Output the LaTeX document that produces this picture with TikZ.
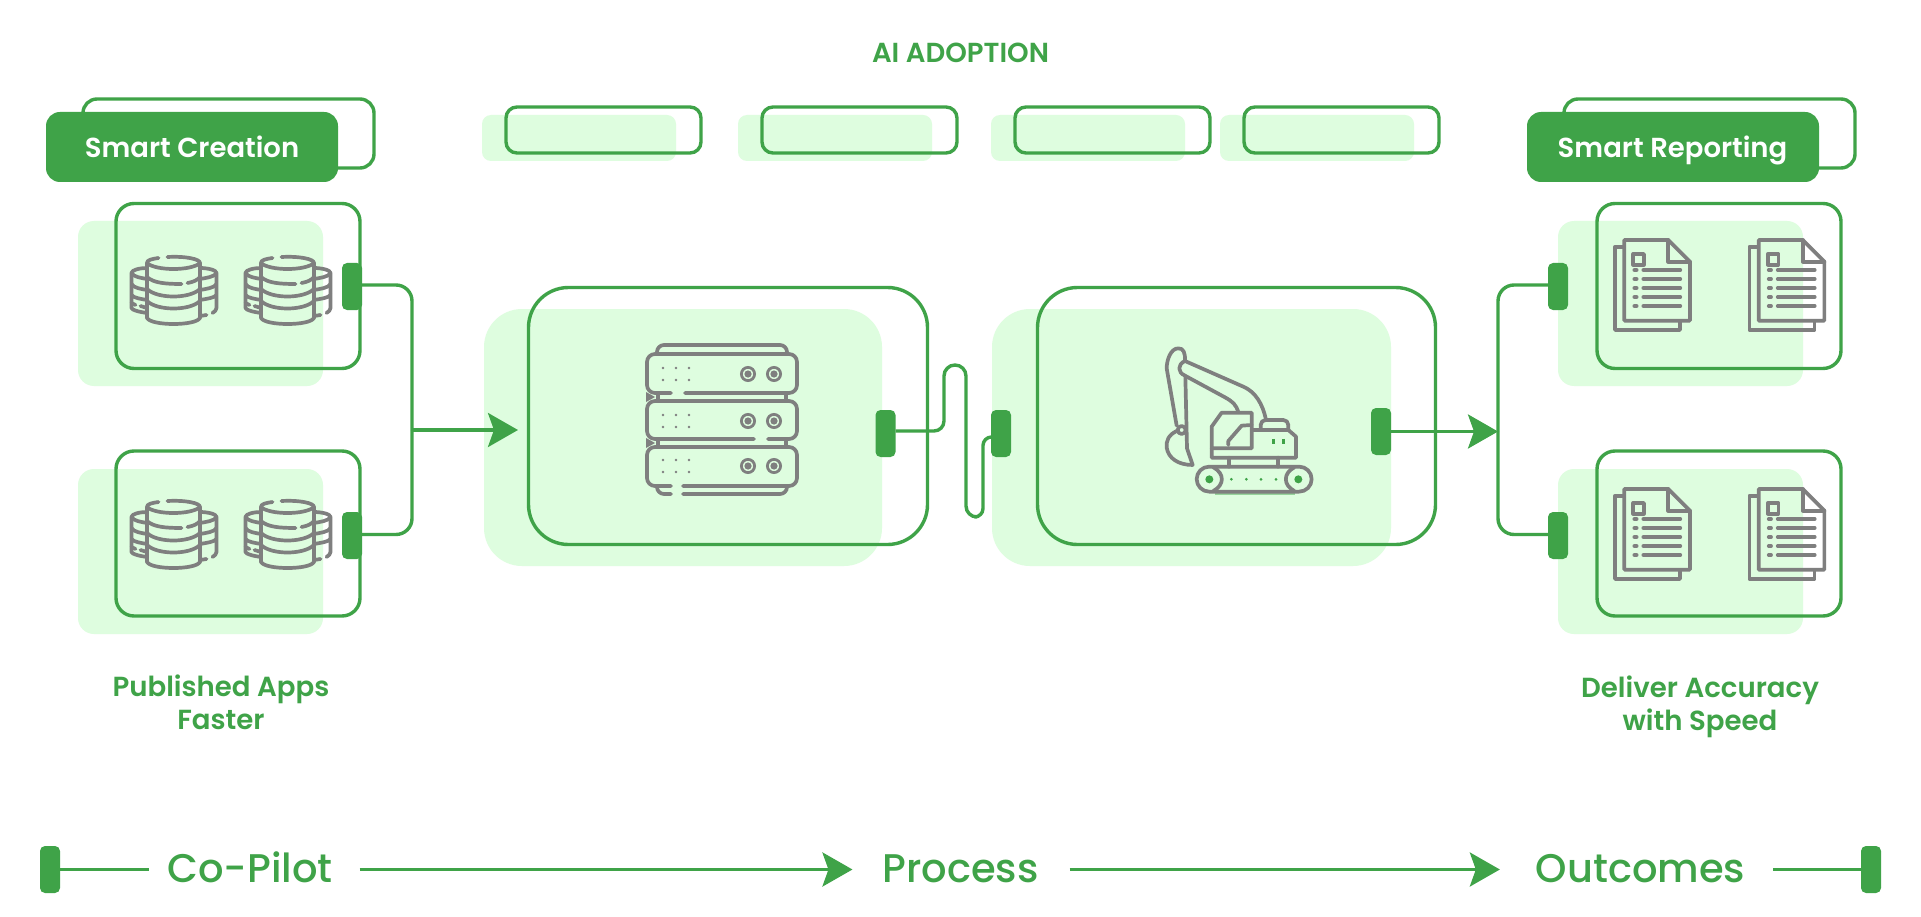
\documentclass[tikz,border=0pt]{standalone}
\usepackage{fontspec}
\setmainfont{Poppins}
\newfontfamily\popm{Poppins Medium}
\newfontfamily\pops{Poppins SemiBold}
\usetikzlibrary{arrows.meta,calc}
\definecolor{gr}{HTML}{3FA348}
\definecolor{lt}{HTML}{DEFDDF}
\definecolor{gy}{HTML}{7F7F7F}
\tikzset{
  fillbox/.style={fill=lt,draw=none,rounded corners=#1,inner sep=0pt,outer sep=0pt},
  linebox/.style={draw=gr,line width=3.4pt,fill=none,rounded corners=#1,inner sep=0pt,outer sep=0pt},
  solidbox/.style={fill=gr,draw=none,rounded corners=#1,inner sep=0pt,outer sep=0pt},
  handle/.style={fill=gr,draw=none,rounded corners=5pt,minimum width=20pt,minimum height=47pt,inner sep=0pt,outer sep=0pt},
  wire/.style={draw=gr,line width=3.4pt},
  arrowline/.style={draw=gr,line width=3.4pt,-{Stealth[length=30pt,width=34pt,inset=6pt]}},
  icon/.style={draw=gy,line width=3.7pt,line cap=round,line join=round},
  label/.style={text=gr,inner sep=0pt,outer sep=0pt,align=center},
  tlabel/.style={text=gr,inner sep=0pt,outer sep=0pt,text height=25pt,text depth=0pt,font=\popm\fontsize{40}{44}\selectfont},
  hdlabel/.style={text=white,inner sep=0pt,outer sep=0pt,anchor=base,font=\pops\fontsize{27.5}{30}\selectfont},
  caplabel/.style={text=gr,inner sep=0pt,outer sep=0pt,align=center,font=\pops\fontsize{27.6}{33}\selectfont},
  dbicon/.pic={
    \draw[icon] (-26.5,-22) .. controls (-34,-22) and (-42,-20) .. (-42,-17) -- (-42,18) .. controls (-42,20) and (-34,22) .. (-26.5,23);
    \draw[icon] (-42,-17) .. controls (-40,-13) and (-32,-12) .. (-26.5,-11);
    \draw[icon] (-42,-6) .. controls (-40,-2) and (-32,-1) .. (-26.5,0);
    \draw[icon] (-42,5) .. controls (-40,8) and (-32,9) .. (-26.5,10);
    \draw[icon] (-42,13) -- (-38,15) (-33,16) -- (-26.5,18);
    \draw[icon] (26.5,-22) .. controls (34,-22) and (43,-20) .. (43,-17) -- (43,18) .. controls (43,20) and (41,22) .. (39,23);
    \draw[icon] (33,25) -- (26.5,26);
    \draw[icon] (43,-17) .. controls (41,-13) and (32,-12) .. (26.5,-11);
    \draw[icon] (43,-6) .. controls (41,-2) and (32,-1) .. (26.5,0);
    \draw[icon] (43,5) .. controls (41,8) and (32,9) .. (26.5,10);
    \draw[icon] (-15,-32) .. controls (-22,-31) and (-26.5,-30) .. (-26.5,-27) -- (-26.5,28) .. controls (-22,36) and (22,36) .. (26.5,28) -- (26.5,-27) .. controls (26.5,-31) and (12,-34) .. (-6,-33);
    \draw[icon] (-26.5,-27) .. controls (-18,-19) and (18,-19) .. (26.5,-27);
    \draw[icon] (-26.5,-13) .. controls (-20,-7) and (-8,-6) .. (8,-6);
    \draw[icon] (14,-7) .. controls (20,-8) and (24,-10) .. (26.5,-13);
    \draw[icon] (-26.5,-1) .. controls (-16,9) and (16,9) .. (26.5,-1);
    \draw[icon] (-26.5,11) .. controls (-16,21) and (16,21) .. (26.5,11);
  },
  docicon/.pic={
    \begin{scope}[x=.3333pt,y=-.3333pt]
      \draw[icon,line cap=butt] (0,20) -- (-28,20) -- (-28,270) -- (167,270) -- (167,242);
      \draw[icon] (0,0) -- (132,0) -- (197,65) -- (197,242) -- (0,242) -- cycle;
      \draw[icon] (132,0) -- (132,65) -- (197,65);
      \draw[icon] (27,42) rectangle (59,74);
      \foreach \yy in {90,117,144,171,198}{
        \draw[icon] (30,\yy) -- (37,\yy);
        \draw[icon] (57,\yy) -- (168,\yy);
      }
    \end{scope}
  },
  excavicon/.pic={
    \begin{scope}[x=.3333pt,y=-.3333pt]
      \draw[draw=gr!45!lt,line width=2pt] (195,476) -- (435,476);
      \draw[icon] (106,122) -- (111,340) -- (128,390);
      \draw[icon] (80,272) -- (50,100) .. controls (50,75) and (62,40) .. (85,40) .. controls (100,40) and (106,52) .. (105,78);
      \draw[icon] (80,288) .. controls (55,300) and (48,318) .. (50,338) .. controls (55,370) and (85,390) .. (128,390);
      \draw[icon] (95,285) circle (12);
      \draw[icon] (265,232) .. controls (258,208) and (248,200) .. (225,187) -- (105,122) .. controls (82,112) and (82,88) .. (105,78) -- (280,155) .. controls (315,170) and (338,205) .. (348,255);
      \draw[icon] (215,233) -- (305,233) -- (305,340) -- (185,340) -- (185,275) -- cycle;
      \draw[icon] (235,330) -- (235,318) -- (275,272) -- (305,270);
      \draw[icon] (185,340) -- (185,368) -- (438,368) -- (438,305) -- (415,285) -- (305,285);
      \draw[icon,rounded corners=5pt] (332,285) -- (332,255) -- (415,255) -- (415,285);
      \draw[draw=gr,line width=3pt] (370,312) -- (370,326) (400,312) -- (400,326);
      \draw[icon] (237,368) -- (237,395) (385,368) -- (385,395);
      \draw[icon,rounded corners=12.5pt] (140,395) rectangle (485,470);
      \draw[icon] (190,397) .. controls (224,415) and (224,450) .. (190,468);
      \draw[icon] (433,397) .. controls (399,415) and (399,450) .. (433,468);
      \fill[gr] (178,433) circle (12) (445,433) circle (12);
      \foreach \xx in {244,289,333,378} \fill[gr] (\xx,433) circle (4.5);
    \end{scope}
  },
}
\begin{document}
\begin{tikzpicture}[x=1pt,y=-1pt]
\useasboundingbox (0,0) rectangle (1921,917);
\fill[white] (0,0) rectangle (1921,917);

\node[label] (title) at (960.5,53) {\pops\fontsize{27.5}{30}\selectfont AI ADOPTION};

\node[linebox=14pt,minimum width=291pt,minimum height=69pt] (slb) at (228.5,133.5) {};
\node[solidbox=14pt,minimum width=292pt,minimum height=70pt] (slf) at (192,147) {};
\node[hdlabel] (slt) at (192,157.5) {Smart Creation};
\node[linebox=14pt,minimum width=291pt,minimum height=69pt] (srb) at (1709.5,133.5) {};
\node[solidbox=14pt,minimum width=292pt,minimum height=70pt] (srf) at (1673,147) {};
\node[hdlabel] (srt) at (1672.5,157.5) {Smart Reporting};

\node[fillbox=9pt,minimum width=194pt,minimum height=46pt] (t1f) at (579,138) {};
\node[linebox=11pt,minimum width=195pt,minimum height=46pt] (t1o) at (603.5,130) {};
\node[fillbox=9pt,minimum width=194pt,minimum height=46pt] (t2f) at (835,138) {};
\node[linebox=11pt,minimum width=195pt,minimum height=46pt] (t2o) at (859.5,130) {};
\node[fillbox=9pt,minimum width=194pt,minimum height=46pt] (t3f) at (1088,138) {};
\node[linebox=11pt,minimum width=195pt,minimum height=46pt] (t3o) at (1112.5,130) {};
\node[fillbox=9pt,minimum width=194pt,minimum height=46pt] (t4f) at (1317,138) {};
\node[linebox=11pt,minimum width=195pt,minimum height=46pt] (t4o) at (1341.5,130) {};

\node[fillbox=16pt,minimum width=245pt,minimum height=165pt] (l1f) at (200.5,303.5) {};
\node[linebox=18pt,minimum width=244pt,minimum height=165pt] (l1o) at (238,286) {};
\node[fillbox=16pt,minimum width=245pt,minimum height=165pt] (l2f) at (200.5,551.5) {};
\node[linebox=18pt,minimum width=244pt,minimum height=165pt] (l2o) at (238,533.5) {};
\pic at (173.5,290) {dbicon};
\pic at (287.5,290) {dbicon};
\pic at (173.5,534) {dbicon};
\pic at (287.5,534) {dbicon};
\node[handle] (h1) at (352,286.5) {};
\node[handle] (h2) at (352,535.5) {};

\node[fillbox=16pt,minimum width=245pt,minimum height=165pt] (r1f) at (1680.5,303.5) {};
\node[linebox=18pt,minimum width=244pt,minimum height=165pt] (r1o) at (1719,286) {};
\node[fillbox=16pt,minimum width=245pt,minimum height=165pt] (r2f) at (1680.5,551.5) {};
\node[linebox=18pt,minimum width=244pt,minimum height=165pt] (r2o) at (1719,533.5) {};
\pic at (1624.3,240) {docicon};
\pic at (1758.7,240) {docicon};
\pic at (1624.3,489) {docicon};
\pic at (1758.7,489) {docicon};
\node[handle] (h5) at (1558,286.5) {};
\node[handle] (h6) at (1558,535.5) {};

\node[fillbox=38pt,minimum width=398pt,minimum height=257pt] (mf) at (683,437.5) {};
\node[linebox=40pt,minimum width=399pt,minimum height=257pt] (mo) at (728,416) {};
\node[fillbox=38pt,minimum width=399pt,minimum height=257pt] (cf) at (1191.5,437.5) {};
\node[linebox=40pt,minimum width=398pt,minimum height=257pt] (co) at (1236.5,416) {};

\begin{scope}
  \draw[icon,rounded corners=7pt] (657,354) -- (657,345) -- (787,345) -- (787,354);
  \draw[icon,rounded corners=8pt] (671,393) -- (647,393) -- (647,354) -- (797,354) -- (797,393) -- (685,393);
  \draw[icon,rounded corners=8pt] (754,439) -- (647,439) -- (647,401) -- (797,401) -- (797,439) -- (768,439);
  \draw[icon,rounded corners=8pt] (671,486) -- (647,486) -- (647,447) -- (797,447) -- (797,486) -- (683,486);
  \draw[icon,rounded corners=7pt] (671,494) -- (657,494) -- (657,486);
  \draw[icon,rounded corners=7pt] (683,494) -- (787,494) -- (787,486);
  \draw[icon,line cap=butt] (658,393) -- (658,401) (786,393) -- (786,401) (658,439) -- (658,447) (786,439) -- (786,447);
  \fill[gy] (646,392) -- (655,397) -- (646,402) -- cycle (646,438) -- (655,443) -- (646,448) -- cycle;
  \foreach \yc in {374,421,466}{
    \foreach \xc in {748,774}{
      \draw[draw=gy,line width=2.8pt] (\xc,\yc) circle (6.6);
      \fill[gy] (\xc,\yc) circle (3.6);
    }
  }
  \foreach \ya/\yb in {368/380,415/427,460/472}{
    \foreach \xc in {663,676,689}{
      \fill[gy] (\xc,\ya) circle (1.4) (\xc,\yb) circle (1.4);
    }
  }
\end{scope}
\pic at (1150,335) {excavicon};

\node[handle,minimum height=47pt] (h3) at (885.5,433.5) {};
\node[handle,minimum height=47pt] (h4) at (1001,433.5) {};
\node[handle,minimum height=47pt] (h7) at (1381,431.5) {};

\coordinate (jl) at (412,430);
\coordinate (jr) at (1498,431);
\coordinate (mi) at (518,430);
\draw[wire,rounded corners=16pt] ([yshift=1.5pt]h1.east) -| (jl);
\draw[wire,rounded corners=16pt] ([yshift=1pt]h2.east) -| (jl);
\draw[wire,rounded corners=16pt] ([yshift=1.5pt]h5.west) -| (jr);
\draw[wire,rounded corners=16pt] ([yshift=1pt]h6.west) -| (jr);
\draw[arrowline] (jl) -- (mi);
\draw[arrowline] (h7.east) -- (h7.east -| jr);
\draw[wire] ([yshift=2.5pt]h3.east) [rounded corners=10pt] -- (944,431) [rounded corners=11pt] -- (944,365) -- (966,365) -- (966,517) [rounded corners=8.5pt] -- (983,517) -- (983,437) -- ([yshift=-3.5pt]h4.west);

\node[caplabel] (cap1) at (221,702) {Published Apps\\Faster};
\node[caplabel] (cap2) at (1700,706.5) {Deliver Accuracy\\with Speed};

\node[handle,minimum width=20pt] (b1) at (50,869.5) {};
\node[handle,minimum width=20pt] (b2) at (1871,869.5) {};
\node[tlabel] (bt1) at (250,869.5) {Co-Pilot};
\node[tlabel] (bt2) at (960.5,869.5) {Process};
\node[tlabel] (bt3) at (1640.5,869.5) {Outcomes};
\draw[wire,shorten >=18pt] (b1.east) -- (bt1.west);
\draw[arrowline,shorten <=27pt,shorten >=30pt] (bt1.east) -- (bt2.west);
\draw[arrowline,shorten <=31pt,shorten >=36pt] (bt2.east) -- (bt3.west);
\draw[wire,shorten <=28pt] (bt3.east) -- (b2.west);
\end{tikzpicture}
\end{document}
